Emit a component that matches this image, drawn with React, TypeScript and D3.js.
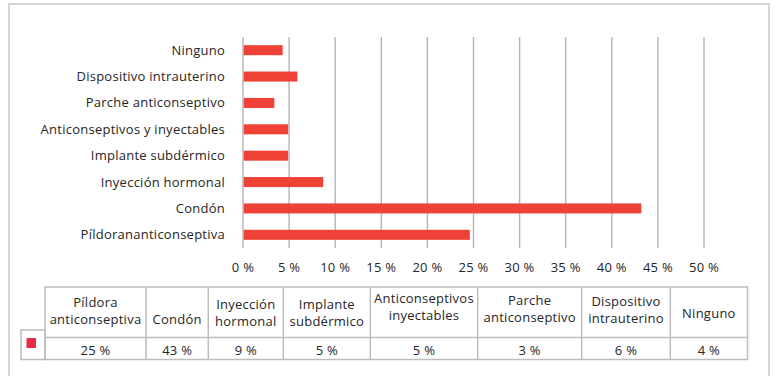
import React from "react";
import * as d3 from "d3";

// ---- data ----
const categories = [
  "Ninguno",
  "Dispositivo intrauterino",
  "Parche anticonseptivo",
  "Anticonseptivos y inyectables",
  "Implante subdérmico",
  "Inyección hormonal",
  "Condón",
  "Píldorananticonseptiva",
];
const barValues = [4.3, 5.9, 3.4, 4.9, 4.9, 8.7, 43.2, 24.6];
const xTicks = [0, 5, 10, 15, 20, 25, 30, 35, 40, 45, 50];
const tableHeaders = [
  ["Píldora", "anticonseptiva"],
  ["Condón"],
  ["Inyección", "hormonal"],
  ["Implante", "subdérmico"],
  ["Anticonseptivos", "inyectables"],
  ["Parche", "anticonseptivo"],
  ["Dispositivo", "intrauterino"],
  ["Ninguno"],
];
const tableValues = [25, 43, 9, 5, 5, 3, 6, 4];

// ---- layout ----
const W = 784;
const H = 376;
const FONT = "'Open Sans', sans-serif";
const TEXT = "#262626";
const FS = 13;
const LS = 0.25;
const colEdges = [45, 146, 208.3, 283.3, 370.3, 477.7, 581.7, 670.3, 747.5];
const headerBaseline = [306.7, 324.3, 309.3, 309, 302.7, 305, 306, 317.5];
const LINE_GAP = 17;

export default function App() {
  const x = d3.scaleLinear().domain([0, 50]).range([243, 704]);
  const y = d3
    .scaleBand<string>()
    .domain(categories)
    .range([37, 248])
    .paddingInner(0.62)
    .paddingOuter(0.31);

  const tableTop = 287;
  const headerBottom = 337.5;
  const tableBottom = 359.5;
  const tableStroke = "#bdbdbd";

  return (
    <svg
      width={W}
      height={H}
      style={{ position: "absolute", left: 0, top: 0, background: "#fff" }}
      fontFamily={FONT}
      letterSpacing={LS}
    >
      {/* outer frame */}
      <path d={`M9,${H + 2}V4H769V${H + 2}`} fill="none" stroke="#cacaca" strokeWidth={1.5} />

      {/* grid */}
      {xTicks.map((t) => (
        <line key={t} x1={x(t)} x2={x(t)} y1={37} y2={248} stroke="#b4b4b9" strokeWidth={1.4} />
      ))}

      {/* bars */}
      {categories.map((c, i) => (
        <rect
          key={c}
          x={x(0) + 0.7}
          y={y(c)}
          width={x(barValues[i]) - x(0) - 0.7}
          height={y.bandwidth()}
          fill="#ef4136"
        />
      ))}

      {/* category labels */}
      {categories.map((c) => (
        <text
          key={c}
          x={225}
          y={(y(c) as number) + y.bandwidth() / 2}
          dy="0.35em"
          textAnchor="end"
          fontSize={FS}
          fill={TEXT}
        >
          {c}
        </text>
      ))}

      {/* tick labels */}
      {xTicks.map((t) => (
        <text key={t} x={x(t)} y={272} textAnchor="middle" fontSize={FS} fill={TEXT}>
          {`${t} %`}
        </text>
      ))}

      {/* table */}
      <rect x={21} y={330} width={24} height={29.5} fill="#fff" stroke={tableStroke} strokeWidth={1.5} />
      <rect x={26.5} y={338} width={9.5} height={10} fill="#e62d48" />
      <rect
        x={colEdges[0]}
        y={tableTop}
        width={colEdges[colEdges.length - 1] - colEdges[0]}
        height={tableBottom - tableTop}
        fill="none"
        stroke={tableStroke}
        strokeWidth={1.5}
      />
      <line x1={colEdges[0]} x2={colEdges[colEdges.length - 1]} y1={headerBottom} y2={headerBottom} stroke={tableStroke} strokeWidth={1.5} />
      {colEdges.slice(1, -1).map((cx, i) => (
        <line key={i} x1={cx} x2={cx} y1={tableTop} y2={tableBottom} stroke={tableStroke} strokeWidth={1.5} />
      ))}
      {tableHeaders.map((lines, i) => {
        const cx = (colEdges[i] + colEdges[i + 1]) / 2;
        return (
          <text key={i} textAnchor="middle" fontSize={FS} fill={TEXT}>
            {lines.map((l, j) => (
              <tspan key={j} x={cx} y={headerBaseline[i] + j * LINE_GAP}>
                {l}
              </tspan>
            ))}
          </text>
        );
      })}
      {tableValues.map((v, i) => (
        <text
          key={i}
          x={(colEdges[i] + colEdges[i + 1]) / 2}
          y={355}
          textAnchor="middle"
          fontSize={FS}
          fill={TEXT}
        >
          {`${v} %`}
        </text>
      ))}
    </svg>
  );
}
